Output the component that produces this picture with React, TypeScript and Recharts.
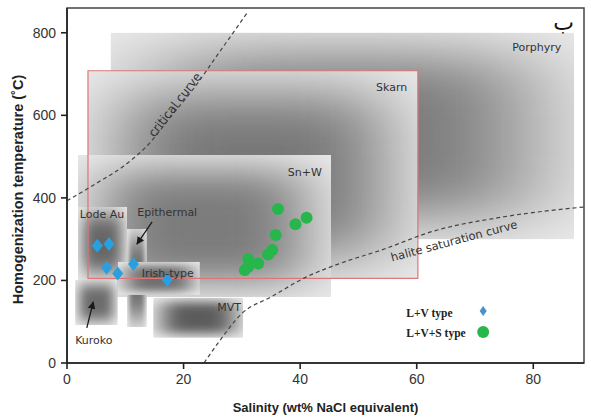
import { ComposedChart, XAxis, YAxis, Line, Scatter, ReferenceArea, ReferenceLine, ReferenceDot } from "recharts";

const xTicks = [0, 20, 40, 60, 80];
const yTicks = [0, 200, 400, 600, 800];

// L+V type inclusions (blue diamonds)
const lvSalinity = [5.2, 7.2, 6.8, 8.7, 11.4, 17.2];
const lvTemp = [284, 288, 231, 217, 240, 201];

// L+V+S type inclusions (green circles)
const lvsSalinity = [36.2, 39.2, 41.1, 35.8, 35.2, 34.5, 32.8, 31.1, 31.1, 30.5];
const lvsTemp = [373, 336, 352, 310, 274, 263, 241, 252, 233, 225];

// dashed boundary curves
const criticalX = [0, 5, 10, 14, 18, 22, 26, 31];
const criticalY = [393, 435, 480, 530, 600, 670, 750, 850];
const haliteX = [23.5, 26, 30, 35, 41, 47, 54, 63, 74, 88.7];
const haliteY = [0, 50, 120, 160, 208, 242, 274, 320, 352, 378];

// deposit-type fields (salinity range x temperature range)
const fieldNames = ["Porphyry", "Skarn", "Sn+W", "Lode Au", "Kuroko", "Epithermal", "Irish-type", "MVT"];
const fieldX1 = [7.5, 3.6, 1.9, 1.9, 1.4, 10.3, 8.7, 14.8];
const fieldX2 = [87, 60.2, 45.3, 10.3, 8.7, 13.7, 22.8, 30.2];
const fieldY1 = [300, 205, 160, 201, 92, 87, 165, 61];
const fieldY2 = [800, 708, 504, 378, 201, 325, 245, 158];
const fieldTone = ["#7a7a7a", "#777777", "#7c7c7c", "#666666", "#6c6c6c", "#707070", "#707070", "#5c5c5c"];

// field label anchors
const labelX = [80.6, 55.7, 40.8, 6.0, 4.6, 17.2, 17.3, 27.8];
const labelY = [766, 669, 463, 361, 56, 366, 218, 136];

const X_MAX = 88.7;
const Y_MAX = 860;

const lvPoints = lvSalinity.map((x, i) => ({ x, y: lvTemp[i] }));
const lvsPoints = lvsSalinity.map((x, i) => ({ x, y: lvsTemp[i] }));
const criticalPts = criticalX.map((x, i) => ({ x, y: criticalY[i] }));
const halitePts = haliteX.map((x, i) => ({ x, y: haliteY[i] }));

const LABEL_FONT = "'DejaVu Sans', Verdana, sans-serif";
const AXIS_FONT = "'Liberation Sans', Arial, sans-serif";

const fieldShape = (tone: string) => (p: any) => {
  const { x, y, width, height } = p;
  if (!width || !height) return <g />;
  const ix = width * 0.1;
  const iy = height * 0.1;
  return (
    <svg x={x} y={y} width={width} height={height} overflow="hidden">
      <rect x={0} y={0} width={width} height={height} fill="#ececec" />
      <rect x={ix} y={iy} width={width - 2 * ix} height={height - 2 * iy} fill={tone} filter="url(#soft)" />
    </svg>
  );
};

const textShape = (text: string, opts: any = {}) => (p: any) => (
  <text
    x={p.cx}
    y={p.cy}
    dy="0.35em"
    textAnchor={opts.anchor || "middle"}
    transform={opts.angle ? `rotate(${opts.angle} ${p.cx} ${p.cy})` : undefined}
    fontFamily={opts.font || LABEL_FONT}
    fontSize={opts.size || 11}
    fontWeight={opts.weight || "normal"}
    fill={opts.color || "#333"}
  >
    {text}
  </text>
);

const diamond = (w: number, h: number, color: string) => (p: any) => (
  <polygon points={`${p.cx},${p.cy - h} ${p.cx + w},${p.cy} ${p.cx},${p.cy + h} ${p.cx - w},${p.cy}`} fill={color} />
);

const arrowShape = (p: any) => (
  <line x1={p.x1} y1={p.y1} x2={p.x2} y2={p.y2} stroke="#1a1a1a" strokeWidth={1.3} markerEnd="url(#arrowHead)" />
);

export default function App() {
  return (
    <div style={{ width: 591, height: 419, background: "#fff" }}>
      <style>{"body{margin:0}"}</style>
      <svg width={0} height={0} style={{ position: "absolute" }}>
        <defs>
          <filter id="soft" x="-0.5" y="-0.5" width="2" height="2" primitiveUnits="objectBoundingBox">
            <feGaussianBlur stdDeviation="0.17" />
          </filter>
          <marker id="arrowHead" viewBox="0 0 10 10" refX="9" refY="5" markerWidth="6" markerHeight="6" orient="auto">
            <path d="M0,0 L10,5 L0,10 z" fill="#1a1a1a" />
          </marker>
        </defs>
      </svg>
      <ComposedChart width={591} height={419} margin={{ top: 8, right: 7, left: 0, bottom: 26 }}>
        <XAxis
          type="number"
          dataKey="x"
          domain={[0, X_MAX]}
          ticks={xTicks}
          allowDataOverflow
          height={30}
          tickSize={6}
          tickMargin={5}
          stroke="#222"
          strokeWidth={1.6}
          tick={{ fill: "#333", fontSize: 14, fontFamily: AXIS_FONT }}
          label={{
            content: (p: any) => (
              <text
                x={p.viewBox.x + p.viewBox.width / 2}
                y={p.viewBox.y + 49}
                textAnchor="middle"
                fontFamily={AXIS_FONT}
                fontWeight="bold"
                fontSize={13}
                fill="#222"
              >
                Salinity (wt% NaCl equivalent)
              </text>
            ),
          }}
        />
        <YAxis
          type="number"
          dataKey="y"
          domain={[0, Y_MAX]}
          ticks={yTicks}
          allowDataOverflow
          width={67}
          tickSize={6}
          tickMargin={5}
          stroke="#222"
          strokeWidth={1.6}
          tick={{ fill: "#333", fontSize: 14, fontFamily: AXIS_FONT }}
          label={{
            content: (p: any) => {
              const cx = p.viewBox.x + 23;
              const cy = p.viewBox.y + p.viewBox.height / 2 + 4;
              return (
                <text
                  x={cx}
                  y={cy}
                  textAnchor="middle"
                  transform={`rotate(-90 ${cx} ${cy})`}
                  fontFamily={AXIS_FONT}
                  fontWeight="bold"
                  fontSize={14.5}
                  fill="#222"
                >
                  Homogenization temperature (˚C)
                </text>
              );
            },
          }}
        />

        {fieldNames.map((name, i) => (
          <ReferenceArea
            key={name}
            x1={fieldX1[i]}
            x2={fieldX2[i]}
            y1={fieldY1[i]}
            y2={fieldY2[i]}
            shape={fieldShape(fieldTone[i])}
          />
        ))}
        {/* skarn outline in red, drawn over the other fields */}
        <ReferenceArea x1={fieldX1[1]} x2={fieldX2[1]} y1={fieldY1[1]} y2={fieldY2[1]} fill="none" stroke="#d77" strokeWidth={1.2} />
        {/* plot frame */}
        <ReferenceArea x1={0} x2={X_MAX} y1={0} y2={Y_MAX} fill="none" stroke="#444" strokeWidth={1.5} />

        <Line data={criticalPts} dataKey="y" type="monotone" stroke="#444" strokeWidth={1.2} strokeDasharray="4 3" dot={false} isAnimationActive={false} />
        <Line data={halitePts} dataKey="y" type="monotone" stroke="#444" strokeWidth={1.2} strokeDasharray="4 3" dot={false} isAnimationActive={false} />

        <ReferenceLine segment={[{ x: 3.4, y: 85 }, { x: 4.5, y: 148 }]} shape={arrowShape} />
        <ReferenceLine segment={[{ x: 14.6, y: 342 }, { x: 12.0, y: 288 }]} shape={arrowShape} />

        <Scatter data={lvPoints} dataKey="y" shape={diamond(5.5, 7, "#2a9fe0")} isAnimationActive={false} />
        <Scatter data={lvsPoints} dataKey="y" shape={(p: any) => <circle cx={p.cx} cy={p.cy} r={6} fill="#27b64b" />} isAnimationActive={false} />

        {fieldNames.map((name, i) => (
          <ReferenceDot key={`lbl-${name}`} x={labelX[i]} y={labelY[i]} r={1} ifOverflow="visible" shape={textShape(name)} />
        ))}
        <ReferenceDot x={18.5} y={626} r={1} ifOverflow="visible" shape={textShape("critical curve", { angle: -52, size: 12 })} />
        <ReferenceDot x={66.4} y={296} r={1} ifOverflow="visible" shape={textShape("halite saturation curve", { angle: -15, size: 11.5 })} />
        <ReferenceDot x={85.2} y={826} r={1} ifOverflow="visible" shape={textShape("ب", { size: 22, color: "#111", font: "'DejaVu Sans', sans-serif" })} />

        {/* legend */}
        <ReferenceDot x={58.2} y={121} r={1} ifOverflow="visible" shape={textShape("L+V type", { anchor: "start", font: "'Liberation Serif', serif", size: 11.5, weight: "bold", color: "#222" })} />
        <ReferenceDot x={58.2} y={73} r={1} ifOverflow="visible" shape={textShape("L+V+S type", { anchor: "start", font: "'Liberation Serif', serif", size: 11.5, weight: "bold", color: "#222" })} />
        <ReferenceDot x={71.4} y={126} r={1} ifOverflow="visible" shape={diamond(3.5, 5, "#4a8fc8")} />
        <ReferenceDot x={71.4} y={75} r={1} ifOverflow="visible" shape={(p: any) => <circle cx={p.cx} cy={p.cy} r={6} fill="#27b64b" />} />
      </ComposedChart>
    </div>
  );
}
